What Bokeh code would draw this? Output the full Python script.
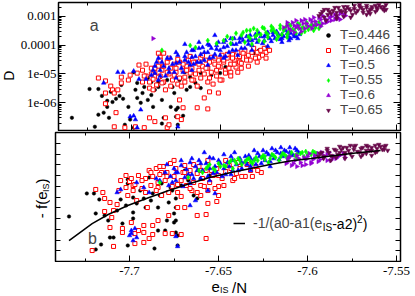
import math
from bokeh.plotting import figure
from bokeh.layouts import column, row
from bokeh.models import (Range1d, FixedTicker, LinearAxis, LogAxis, Legend, LegendItem, Label,
                          CustomJSTickFormatter)
from bokeh.core.properties import value
from bokeh.embed import file_html
from bokeh.resources import INLINE

# ---------------- data (e_IS/N , log10 D) for panel a ----------------
series_names = ["T=0.446", "T=0.466", "T=0.5", "T=0.55", "T=0.6", "T=0.65"]

top_446 = [(-7.734,-6.52),(-7.724,-5.52),(-7.721,-6.83),(-7.719,-5.52),(-7.719,-6.41),(-7.717,-5.76),(-7.716,-6.34),(-7.714,-5.93),(-7.714,-6.14),(-7.713,-6.52),(-7.712,-5.62),(-7.711,-5.97),(-7.709,-5.86),(-7.707,-5.76),(-7.706,-5.38),(-7.705,-5.86),(-7.704,-6.76),(-7.702,-6.14),(-7.701,-6.58),(-7.699,-4.94),(-7.699,-6.86),(-7.698,-5.55),(-7.697,-5.31),(-7.697,-5.83),(-7.695,-6.00),(-7.694,-5.66),(-7.693,-5.45),(-7.691,-5.90),(-7.691,-5.14),(-7.689,-5.73),(-7.689,-5.28),(-7.688,-6.14),(-7.687,-5.55),(-7.685,-5.45),(-7.685,-5.28),(-7.684,-5.11),(-7.683,-5.90),(-7.683,-6.72),(-7.682,-5.31),(-7.682,-6.52),(-7.680,-5.21),(-7.680,-6.83),(-7.678,-6.14),(-7.677,-5.45),(-7.676,-5.66),(-7.675,-6.24),(-7.675,-6.48),(-7.674,-6.17),(-7.674,-6.76),(-7.673,-5.21),(-7.671,-6.45),(-7.670,-4.94),(-7.669,-5.55),(-7.667,-5.45),(-7.667,-5.11),(-7.664,-5.31),(-7.661,-4.97),(-7.661,-5.49),(-7.657,-4.80),(-7.655,-5.04),(-7.652,-4.87),(-7.650,-4.97),(-7.647,-4.76),(-7.644,-4.69),(-7.642,-4.59),(-7.638,-4.59),(-7.635,-4.45),(-7.631,-4.28),(-7.628,-4.18),(-7.624,-4.08)]

top_466 = [(-7.719,-5.14),(-7.715,-5.24),(-7.715,-5.66),(-7.712,-5.42),(-7.711,-5.55),(-7.710,-5.66),(-7.709,-6.34),(-7.710,-6.83),(-7.708,-5.55),(-7.706,-5.31),(-7.706,-5.11),(-7.704,-6.86),(-7.702,-5.21),(-7.701,-5.04),(-7.698,-6.83),(-7.696,-4.69),(-7.697,-4.97),(-7.715,-6.03),(-7.693,-6.86),(-7.690,-6.52),(-7.687,-6.65),(-7.685,-4.28),(-7.684,-4.42),(-7.682,-4.28),(-7.681,-6.52),(-7.680,-6.86),(-7.679,-6.76),(-7.674,-6.48),(-7.673,-5.90),(-7.672,-6.58),(-7.671,-6.17),(-7.663,-6.17),(-7.659,-5.83),(-7.657,-6.21),(-7.656,-5.62),(-7.651,-5.66),(-7.649,-5.21),(-7.644,-4.94),(-7.639,-4.59),(-7.635,-4.42),
           (-7.694,-4.87),(-7.694,-5.28),(-7.692,-5.07),(-7.690,-5.49),(-7.689,-4.80),(-7.688,-5.18),(-7.687,-4.94),(-7.686,-5.38),(-7.685,-4.73),(-7.684,-5.07),(-7.683,-4.87),(-7.682,-5.28),(-7.680,-4.59),(-7.679,-5.00),(-7.678,-4.80),(-7.677,-5.21),(-7.676,-4.66),(-7.675,-4.94),(-7.674,-5.35),(-7.673,-4.59),(-7.671,-4.87),(-7.670,-5.11),(-7.669,-4.73),(-7.668,-4.52),(-7.667,-4.97),(-7.666,-4.80),(-7.665,-5.21),(-7.664,-4.59),(-7.662,-4.87),(-7.661,-4.45),(-7.660,-4.73),(-7.659,-5.00),(-7.658,-4.52),(-7.657,-4.80),(-7.656,-5.14),(-7.655,-4.42),(-7.653,-4.66),(-7.652,-4.87),(-7.651,-4.52),(-7.650,-4.76),(-7.649,-4.35),(-7.648,-4.59),(-7.647,-4.87),(-7.646,-4.45),(-7.644,-4.66),(-7.643,-4.32),(-7.642,-4.52),(-7.641,-4.76),(-7.640,-4.25),(-7.639,-4.42),(-7.638,-4.63),(-7.636,-4.18),(-7.634,-4.35),(-7.633,-4.52),(-7.631,-4.11),(-7.629,-4.25),(-7.628,-4.42),(-7.625,-4.11),(-7.624,-4.25),
           (-7.693,-5.07),(-7.692,-4.66),(-7.690,-5.28),(-7.689,-5.00),(-7.688,-5.55),(-7.687,-4.80),(-7.685,-5.11),(-7.684,-4.52),(-7.683,-5.31),(-7.682,-4.73),(-7.681,-5.55),(-7.680,-4.94),(-7.679,-4.45),(-7.678,-5.42),(-7.676,-5.04),(-7.675,-4.80),(-7.674,-4.49),(-7.673,-5.14),(-7.672,-5.42),(-7.671,-4.66),(-7.670,-5.28),(-7.669,-4.87),(-7.667,-4.39),(-7.666,-5.21),(-7.665,-4.59),(-7.664,-5.00),(-7.663,-5.42),(-7.662,-4.66),(-7.661,-5.14),(-7.660,-4.35),(-7.658,-4.80),(-7.657,-5.28),(-7.656,-4.59),(-7.655,-4.94),(-7.654,-5.35),(-7.653,-4.45),(-7.652,-5.07),(-7.651,-4.73),(-7.650,-5.21),(-7.648,-4.52),(-7.647,-4.97),(-7.646,-4.32),(-7.645,-4.80),(-7.644,-5.07),(-7.643,-4.45),(-7.642,-4.66),(-7.640,-4.94),(-7.639,-4.39),(-7.638,-4.80),(-7.637,-4.28),(-7.635,-4.52),(-7.634,-4.73),(-7.632,-4.25),(-7.630,-4.45),(-7.629,-4.59),(-7.627,-4.18),(-7.626,-4.35),(-7.624,-4.45),(-7.622,-4.18)]

top_05 = [(-7.716,-5.31),(-7.708,-4.94),(-7.705,-4.94),(-7.699,-4.90),(-7.696,-5.18),(-7.701,-6.48),(-7.699,-6.45),(-7.698,-6.58),(-7.697,-6.86),(-7.695,-6.24),(-7.692,-5.18),(-7.687,-4.97),(-7.685,-4.45),(-7.674,-6.83),(-7.670,-3.97),(-7.662,-3.90),(-7.653,-3.66),
          (-7.689,-5.04),(-7.687,-4.73),(-7.685,-5.21),(-7.684,-4.87),(-7.683,-4.59),(-7.681,-5.07),(-7.679,-4.80),(-7.678,-4.45),(-7.676,-4.94),(-7.675,-4.63),(-7.674,-4.35),(-7.672,-4.80),(-7.670,-4.52),(-7.669,-4.25),(-7.667,-4.69),(-7.666,-4.42),(-7.665,-4.18),(-7.663,-4.59),(-7.661,-4.32),(-7.660,-4.08),(-7.659,-4.52),(-7.657,-4.25),(-7.656,-4.01),(-7.654,-4.42),(-7.652,-4.14),(-7.651,-3.90),(-7.650,-4.35),(-7.648,-4.08),(-7.647,-3.84),(-7.645,-4.25),(-7.643,-3.97),(-7.642,-3.77),(-7.641,-4.18),(-7.639,-3.90),(-7.638,-3.73),(-7.636,-4.11),(-7.634,-3.84),(-7.633,-3.66),(-7.632,-4.01),(-7.630,-3.77),(-7.628,-3.59),(-7.626,-3.94),(-7.625,-3.70),(-7.623,-3.56),(-7.621,-3.87),(-7.620,-3.66),(-7.618,-3.53),(-7.616,-3.80),(-7.615,-3.63),(-7.613,-3.49),(-7.611,-3.73),(-7.610,-3.59),(-7.608,-3.70),(-7.606,-3.77),(-7.605,-3.63),(-7.611,-3.84),(-7.615,-3.90),(-7.623,-4.04),(-7.632,-4.18),(-7.640,-4.35),(-7.648,-4.45),(-7.657,-4.69),(-7.666,-4.87),(-7.675,-5.14),
          (-7.688,-4.87),(-7.686,-4.59),(-7.684,-5.07),(-7.682,-4.73),(-7.680,-4.45),(-7.679,-4.94),(-7.677,-4.66),(-7.675,-4.25),(-7.673,-4.59),(-7.671,-4.94),(-7.670,-4.39),(-7.668,-4.59),(-7.666,-4.18),(-7.665,-4.66),(-7.664,-4.39),(-7.662,-4.11),(-7.661,-4.59),(-7.659,-4.25),(-7.657,-3.97),(-7.656,-4.45),(-7.655,-4.11),(-7.653,-4.32),(-7.652,-4.01),(-7.650,-4.18),(-7.648,-3.90),(-7.647,-4.39),(-7.646,-4.04),(-7.644,-3.77),(-7.643,-4.18),(-7.641,-3.97),(-7.639,-3.77),(-7.638,-4.11),(-7.637,-3.84),(-7.635,-3.70),(-7.634,-3.97),(-7.632,-3.84),(-7.630,-3.63),(-7.629,-3.90),(-7.627,-3.70),(-7.625,-3.84),(-7.624,-3.63),(-7.622,-3.77),(-7.620,-3.56),(-7.619,-3.77),(-7.617,-3.63),(-7.615,-3.77),(-7.614,-3.70),(-7.612,-3.59),(-7.610,-3.77),(-7.608,-3.63),(-7.607,-3.70)]

top_055 = [(-7.683,-4.18),(-7.667,-4.01),(-7.664,-4.08),(-7.657,-3.84),(-7.652,-3.94),(-7.648,-3.84),(-7.646,-3.70),(-7.644,-3.94),(-7.643,-3.77),(-7.641,-3.59),(-7.638,-3.66),(-7.636,-3.90),(-7.635,-3.49),(-7.633,-3.77),(-7.632,-3.97),(-7.631,-3.42),(-7.629,-3.63),(-7.628,-3.84),(-7.626,-3.39),(-7.625,-3.87),(-7.624,-3.56),(-7.623,-3.73),(-7.621,-3.35),(-7.619,-3.53),(-7.618,-3.80),(-7.617,-3.70),(-7.616,-3.32),(-7.614,-3.49),(-7.612,-3.63),(-7.612,-3.73),(-7.611,-3.29),(-7.609,-3.46),(-7.607,-3.59),(-7.606,-3.25),(-7.604,-3.42),(-7.604,-3.59),(-7.602,-3.53),(-7.601,-3.22),(-7.599,-3.35),(-7.597,-3.49),(-7.596,-3.29),(-7.594,-3.42),(-7.593,-3.32),
           (-7.637,-3.56),(-7.634,-3.70),(-7.633,-3.49),(-7.630,-3.70),(-7.629,-3.49),(-7.627,-3.63),(-7.625,-3.42),(-7.623,-3.63),(-7.621,-3.49),(-7.620,-3.42),(-7.618,-3.59),(-7.616,-3.42),(-7.615,-3.63),(-7.613,-3.39),(-7.611,-3.53),(-7.610,-3.32),(-7.608,-3.49),(-7.606,-3.39),(-7.605,-3.29),(-7.603,-3.39),(-7.601,-3.32),(-7.600,-3.46),(-7.598,-3.29),(-7.596,-3.39),(-7.594,-3.22)]

top_06 = [(-7.688,-3.77),(-7.614,-3.39),(-7.612,-3.22),(-7.610,-3.49),(-7.608,-3.32),(-7.607,-3.15),(-7.605,-3.42),(-7.603,-3.25),(-7.602,-3.11),(-7.600,-3.35),(-7.598,-3.18),(-7.597,-3.04),(-7.595,-3.29),(-7.593,-3.11),(-7.592,-2.98),(-7.590,-3.22),(-7.588,-3.04),(-7.587,-3.15),(-7.585,-2.94),(-7.583,-3.08),(-7.582,-2.91),(-7.608,-3.56),(-7.604,-3.53),(-7.598,-3.42),(-7.593,-3.35),(-7.579,-2.98),
          (-7.612,-3.32),(-7.611,-3.42),(-7.609,-3.22),(-7.607,-3.39),(-7.606,-3.32),(-7.604,-3.15),(-7.602,-3.42),(-7.601,-3.25),(-7.599,-3.11),(-7.597,-3.32),(-7.596,-3.18),(-7.594,-3.05),(-7.592,-3.25),(-7.590,-3.11),(-7.589,-3.18),(-7.587,-3.01),(-7.585,-3.11),(-7.584,-3.01),(-7.582,-3.11),(-7.580,-2.94)]

top_065 = [(-7.594,-2.98),(-7.592,-2.84),(-7.591,-3.04),(-7.589,-2.77),(-7.587,-2.91),(-7.585,-2.70),(-7.584,-2.98),(-7.582,-2.80),(-7.580,-2.67),(-7.579,-2.87),(-7.577,-2.74),(-7.575,-2.94),(-7.574,-2.63),(-7.572,-2.80),(-7.570,-2.70),(-7.569,-2.87),(-7.567,-2.63),(-7.565,-2.77),(-7.564,-2.67),(-7.562,-2.84),(-7.560,-2.60),(-7.558,-2.74),(-7.557,-2.67),(-7.556,-2.77),(-7.584,-3.08),(-7.576,-3.04),(-7.567,-2.94),(-7.571,-2.60),(-7.565,-2.91),(-7.590,-3.15),(-7.580,-3.01),(-7.561,-2.70),
           (-7.593,-2.91),(-7.591,-2.77),(-7.589,-2.94),(-7.588,-2.84),(-7.586,-2.80),(-7.584,-2.87),(-7.583,-2.70),(-7.581,-2.84),(-7.579,-2.77),(-7.578,-2.67),(-7.576,-2.80),(-7.574,-2.74),(-7.573,-2.87),(-7.571,-2.67),(-7.569,-2.77),(-7.567,-2.70),(-7.566,-2.84),(-7.564,-2.74),(-7.562,-2.63),(-7.561,-2.77),(-7.559,-2.67),(-7.557,-2.80),(-7.556,-2.60)]

# ---------------- data (e_IS/N , -f(e_IS)) for panel b ----------------
bot_446 = [(-7.734,4.19),(-7.724,6.33),(-7.720,6.33),(-7.719,4.47),(-7.717,5.77),(-7.719,1.12),(-7.716,1.58),(-7.714,4.28),(-7.712,3.81),(-7.711,2.23),(-7.709,2.23),(-7.707,4.74),(-7.705,5.77),(-7.704,3.53),(-7.702,5.21),(-7.701,7.26),(-7.701,1.49),(-7.701,7.63),(-7.698,4.00),(-7.698,4.56),(-7.698,5.95),(-7.696,5.40),(-7.694,6.60),(-7.692,5.86),(-7.691,5.02),(-7.689,7.81),(-7.688,5.67),(-7.687,6.33),(-7.686,1.21),(-7.684,5.02),(-7.684,2.88),(-7.683,6.14),(-7.682,7.26),(-7.680,2.88),(-7.680,8.19),(-7.679,3.81),(-7.678,5.49),(-7.677,6.88),(-7.676,6.60),(-7.675,4.47),(-7.674,5.86),(-7.674,5.02),(-7.674,3.81),(-7.675,3.63),(-7.674,2.70),(-7.673,2.42),(-7.673,1.49),(-7.669,8.47),(-7.664,6.14),(-7.662,5.86),(-7.671,7.07),(-7.667,7.53),(-7.660,7.72),(-7.655,8.00)]

bot_466 = [(-7.721,1.02),(-7.719,6.70),(-7.715,6.42),(-7.714,4.65),(-7.714,5.86),(-7.711,5.49),(-7.711,3.16),(-7.710,4.09),(-7.709,4.74),(-7.709,1.40),(-7.707,5.30),(-7.706,6.60),(-7.704,3.07),(-7.704,2.70),(-7.702,6.88),(-7.700,7.44),(-7.699,3.63),(-7.698,7.07),(-7.697,2.60),(-7.697,1.67),(-7.695,2.88),(-7.692,2.70),(-7.692,1.77),(-7.692,3.35),(-7.690,5.02),(-7.689,2.14),(-7.687,2.51),(-7.687,3.35),(-7.684,6.88),(-7.684,3.81),(-7.682,8.28),(-7.680,2.60),(-7.678,4.28),(-7.676,2.60),(-7.673,5.02),(-7.671,2.51),(-7.669,5.02),(-7.662,4.28),(-7.660,6.14),(-7.657,4.37),(-7.657,2.14),(-7.656,5.40),(-7.651,5.58),(-7.650,6.14),
           (-7.705,7.53),(-7.702,8.00),(-7.699,7.72),(-7.697,7.16),(-7.695,8.00),(-7.693,6.79),(-7.691,7.72),(-7.689,8.47),(-7.688,7.07),(-7.687,7.91),(-7.685,8.65),(-7.684,7.35),(-7.683,8.09),(-7.681,8.84),(-7.680,7.53),(-7.679,8.28),(-7.677,9.12),(-7.676,6.98),(-7.675,7.91),(-7.674,8.65),(-7.673,6.42),(-7.671,7.53),(-7.670,8.28),(-7.669,8.93),(-7.668,7.07),(-7.667,7.81),(-7.666,8.47),(-7.665,6.60),(-7.664,7.35),(-7.662,8.19),(-7.661,8.84),(-7.660,7.07),(-7.659,7.72),(-7.657,8.47),(-7.656,6.60),(-7.655,7.35),(-7.653,8.00),(-7.651,8.65),(-7.650,6.98),(-7.648,7.72),(-7.646,8.37),(-7.644,8.93),(-7.642,7.53),(-7.640,8.19),(-7.638,8.65),(-7.635,7.91),(-7.632,8.47),(-7.629,8.84),(-7.626,8.28),
           (-7.701,6.14),(-7.698,6.60),(-7.696,5.67),(-7.693,7.53),(-7.691,6.42),(-7.688,8.28),(-7.685,6.60),(-7.683,8.84),(-7.682,6.14),(-7.679,7.91),(-7.678,6.42),(-7.675,9.40),(-7.673,7.16),(-7.671,6.05),(-7.669,8.28),(-7.666,6.79),(-7.664,9.02),(-7.662,6.42),(-7.660,8.47),(-7.658,6.98),(-7.656,9.40),(-7.654,8.47),(-7.652,6.79),(-7.650,8.00),(-7.647,7.07),(-7.646,9.40),(-7.643,8.65),(-7.641,7.72),(-7.639,9.21),(-7.637,7.91),(-7.634,9.02),(-7.631,7.91),(-7.628,8.47)]

bot_05 = [(-7.707,6.42),(-7.705,6.70),(-7.700,2.42),(-7.699,2.88),(-7.699,2.60),(-7.698,1.95),(-7.697,3.07),(-7.696,2.23),(-7.696,7.35),(-7.692,6.88),(-7.689,6.42),(-7.685,7.72),(-7.674,2.33),(-7.673,1.40),(-7.656,6.60),(-7.652,6.33),(-7.663,5.67),(-7.666,5.21),
          (-7.683,7.53),(-7.680,8.28),(-7.678,7.07),(-7.677,7.91),(-7.675,8.65),(-7.674,7.53),(-7.673,8.28),(-7.671,8.93),(-7.669,7.81),(-7.668,8.56),(-7.666,9.21),(-7.665,8.09),(-7.663,8.84),(-7.661,9.40),(-7.660,7.72),(-7.659,8.47),(-7.657,9.12),(-7.655,9.67),(-7.653,8.19),(-7.652,8.84),(-7.650,9.40),(-7.648,7.91),(-7.647,8.65),(-7.645,9.21),(-7.643,9.77),(-7.642,8.47),(-7.640,9.02),(-7.638,9.58),(-7.637,8.65),(-7.635,9.30),(-7.633,9.86),(-7.632,8.84),(-7.630,9.49),(-7.628,10.05),(-7.626,9.12),(-7.625,9.67),(-7.623,10.14),(-7.621,9.30),(-7.620,9.86),(-7.618,10.33),(-7.616,9.49),(-7.615,10.05),(-7.613,10.33),(-7.611,9.67),(-7.610,10.14),(-7.608,9.86),(-7.606,10.33),(-7.621,8.84),(-7.632,8.47),(-7.643,8.09),(-7.655,7.53),(-7.666,7.26),
          (-7.679,9.02),(-7.676,7.35),(-7.674,8.28),(-7.671,9.40),(-7.670,6.98),(-7.667,8.09),(-7.665,9.58),(-7.664,7.72),(-7.662,8.47),(-7.660,9.12),(-7.658,10.14),(-7.656,7.91),(-7.655,8.65),(-7.653,9.58),(-7.651,8.28),(-7.649,9.12),(-7.647,9.95),(-7.646,8.09),(-7.644,8.84),(-7.642,9.40),(-7.641,10.14),(-7.639,8.47),(-7.637,9.21),(-7.635,9.77),(-7.634,9.02),(-7.632,9.58),(-7.630,10.33),(-7.629,9.02),(-7.627,9.77),(-7.625,10.33),(-7.624,9.40),(-7.622,9.95),(-7.620,10.51),(-7.619,9.58),(-7.617,10.14),(-7.615,10.60),(-7.614,9.77),(-7.612,10.23),(-7.610,10.60),(-7.609,9.95),(-7.607,10.51),(-7.605,10.14)]

bot_055 = [(-7.683,7.35),(-7.667,7.81),(-7.661,8.47),(-7.657,8.65),(-7.655,9.02),(-7.652,8.47),(-7.649,8.84),(-7.647,8.93),(-7.644,9.21),(-7.642,8.65),(-7.641,9.40),(-7.639,9.58),(-7.637,9.02),(-7.635,9.30),(-7.633,9.58),(-7.631,9.12),(-7.629,9.67),(-7.628,9.40),(-7.625,9.86),(-7.624,9.49),(-7.622,9.21),(-7.620,9.95),(-7.618,9.67),(-7.616,9.40),(-7.614,10.05),(-7.612,9.77),(-7.611,9.49),(-7.609,10.14),(-7.607,9.86),(-7.606,9.58),(-7.604,10.05),(-7.602,9.77),(-7.601,10.23),(-7.598,9.95),(-7.596,10.14),(-7.594,9.86),
           (-7.659,8.28),(-7.656,8.84),(-7.653,8.65),(-7.650,9.12),(-7.646,8.84),(-7.643,9.40),(-7.640,9.12),(-7.638,9.40),(-7.634,9.49),(-7.632,9.30),(-7.630,9.40),(-7.626,9.67),(-7.624,9.77),(-7.621,9.58),(-7.619,9.86),(-7.615,9.77),(-7.613,9.95),(-7.610,9.77),(-7.606,9.95),(-7.603,10.14),(-7.600,9.95),(-7.597,10.23),(-7.595,10.05)]

bot_06 = [(-7.612,9.12),(-7.611,9.58),(-7.609,8.93),(-7.607,9.40),(-7.606,9.86),(-7.604,9.21),(-7.602,9.67),(-7.601,9.02),(-7.599,10.05),(-7.597,9.49),(-7.596,9.86),(-7.594,9.30),(-7.592,10.14),(-7.591,9.67),(-7.589,9.95),(-7.587,9.40),(-7.585,9.77),(-7.584,9.58),(-7.582,9.86),(-7.579,9.67),(-7.606,8.84),(-7.598,9.12),
          (-7.611,9.30),(-7.610,9.77),(-7.608,9.12),(-7.605,9.58),(-7.603,8.93),(-7.601,9.49),(-7.600,9.77),(-7.598,9.21),(-7.596,9.67),(-7.594,10.05),(-7.593,9.49),(-7.591,9.86),(-7.589,9.40),(-7.588,10.14),(-7.586,9.58),(-7.583,9.77),(-7.580,10.05)]

bot_065 = [(-7.594,9.77),(-7.592,10.14),(-7.591,9.58),(-7.589,10.33),(-7.587,9.86),(-7.585,10.42),(-7.584,9.67),(-7.582,10.14),(-7.580,10.60),(-7.579,9.95),(-7.577,10.33),(-7.575,9.77),(-7.574,10.70),(-7.572,10.23),(-7.570,10.51),(-7.569,9.95),(-7.567,10.79),(-7.565,10.33),(-7.564,10.60),(-7.562,10.14),(-7.560,10.88),(-7.558,10.42),(-7.557,10.70),(-7.555,10.33),(-7.587,9.40),(-7.579,9.58),(-7.570,9.77),(-7.564,9.86),(-7.576,10.79),(-7.567,10.33),(-7.561,10.51),(-7.582,10.70),
           (-7.593,10.05),(-7.591,9.77),(-7.589,10.51),(-7.588,10.14),(-7.586,9.77),(-7.584,10.33),(-7.583,9.95),(-7.581,10.42),(-7.579,10.14),(-7.578,10.60),(-7.576,10.05),(-7.574,10.42),(-7.573,10.79),(-7.571,10.14),(-7.569,10.60),(-7.567,10.05),(-7.566,10.70),(-7.564,10.33),(-7.562,10.79),(-7.561,10.23),(-7.559,10.70),(-7.557,10.42),(-7.556,10.79)]

fit_e = [-7.734, -7.721, -7.712, -7.701, -7.689, -7.678, -7.666, -7.655, -7.643, -7.632, -7.621, -7.610, -7.598, -7.587, -7.573, -7.559]
fit_f = [1.95, 3.53, 4.37, 5.21, 5.95, 6.60, 7.26, 7.81, 8.28, 8.65, 9.02, 9.35, 9.58, 9.81, 10.09, 10.33]

xtick_values = [-7.7, -7.65, -7.6, -7.55]
xtick_labels = ["-7.7", "-7.65", "-7.6", "-7.55"]
ytick_values = [1e-6, 1e-5, 1e-4, 1e-3]
ytick_labels = ["1e-06", "1e-05", "0.0001", "0.001"]

# ---------------- styles ----------------
styles = [
    dict(marker="circle", size=3.5, fill_color="#000000", line_color="#000000", line_width=0.5),
    dict(marker="square", size=4, fill_color="#ffffff", line_color="#ff0000", line_width=1),
    dict(marker="triangle", size=4.5, fill_color="#0000ff", line_color="#0000ff", line_width=0.5),
    dict(marker="diamond", size=5, fill_color="#00ff00", line_color="#00ff00", line_width=0.5),
    dict(marker="triangle", size=4.5, fill_color="#9400d3", line_color="#9400d3", line_width=0.5,
         angle=-math.pi / 2),
    dict(marker="inverted_triangle", size=4.5, fill_color="#670748", line_color="#670748", line_width=0.5),
]

X_MINOR = [-7.725, -7.675, -7.625, -7.575]
Y_MINOR = [m * 10.0 ** k for k in range(-7, -2) for m in range(2, 10)]
SANS = "Liberation Sans"
SERIF = "Liberation Serif"
X_RANGE = (-7.7416, -7.5478)
FRAME_W = 345
PX = (X_RANGE[1] - X_RANGE[0]) / FRAME_W   # data units per pixel along x


def style_axis(ax, ticker, labels=None, major=6, minor=3):
    ax.ticker = ticker
    ax.axis_line_color = None
    ax.major_tick_in = major
    ax.major_tick_out = 0
    ax.minor_tick_in = minor
    ax.minor_tick_out = 0
    ax.major_tick_line_color = "black"
    ax.minor_tick_line_color = "black"
    ax.major_tick_line_width = 1
    ax.minor_tick_line_width = 1
    if labels is None:
        ax.formatter = CustomJSTickFormatter(code="return ''")
        ax.major_label_text_font_size = "1px"
        ax.major_label_standoff = 0
    else:
        ax.major_label_overrides = labels
        ax.major_label_text_font = SERIF
        ax.major_label_text_font_size = "13px"
        ax.major_label_text_color = "black"


def base_fig(width, height, y_range, log, mb_left, mb_top, mb_bottom):
    kw = dict(width=width, height=height,
              x_range=Range1d(*X_RANGE), y_range=y_range,
              output_backend="svg", toolbar_location=None,
              min_border_left=mb_left, min_border_right=5,
              min_border_top=mb_top, min_border_bottom=mb_bottom)
    if log:
        kw["y_axis_type"] = "log"
    p = figure(**kw)
    p.xgrid.visible = False
    p.ygrid.visible = False
    p.outline_line_color = "black"
    p.outline_line_width = 1.5
    p.background_fill_color = "white"
    p.border_fill_color = "white"
    return p


def text_fig(width, height, x_range=None):
    p = figure(width=width, height=height,
               x_range=x_range if x_range is not None else Range1d(0, width),
               y_range=Range1d(0, height),
               output_backend="svg", toolbar_location=None,
               x_axis_location=None, y_axis_location=None, min_border=0)
    p.grid.visible = False
    p.outline_line_color = None
    p.background_fill_color = "white"
    p.border_fill_color = "white"
    return p


def lab(p, x, y, text, size, angle=0.0, align="left", units="screen"):
    p.add_layout(Label(x=x, y=y, x_units=units, y_units=units, text=text,
                       angle=angle, text_font=SANS, text_font_size=size,
                       text_align=align, text_baseline="middle", text_color="black"))


# ---------------- panel a ----------------
top = base_fig(388, 131, Range1d(1.1e-7, 3.0e-3), True, 38, 2, 1)
xt = FixedTicker(ticks=xtick_values, minor_ticks=X_MINOR)
yt = FixedTicker(ticks=ytick_values, minor_ticks=Y_MINOR)
style_axis(top.xaxis[0], xt)
ax_top_above = LinearAxis()
top.add_layout(ax_top_above, "above")
style_axis(ax_top_above, xt)
style_axis(top.yaxis[0], yt, dict(zip(ytick_values, ytick_labels)), major=7, minor=3)
top.yaxis[0].major_label_standoff = 2
ax_top_right = LogAxis()
top.add_layout(ax_top_right, "right")
style_axis(ax_top_right, yt, major=7, minor=3)

top_data = [top_446, top_466, top_05, top_055, top_06, top_065]
items = []
for name, pts, st in zip(series_names, top_data, styles):
    xs = [p_[0] for p_ in pts]
    ys = [10.0 ** p_[1] for p_ in pts]
    r = top.scatter(xs, ys, **st)
    items.append(LegendItem(label=name, renderers=[r]))

leg = Legend(items=items, location=(265, 13), orientation="vertical",
             label_text_font=SANS, label_text_font_size="13.5px",
             label_height=14, glyph_height=14, glyph_width=10,
             label_standoff=7, spacing=0, padding=0, margin=0,
             border_line_color=None, background_fill_alpha=0)
top.add_layout(leg)

top.add_layout(Label(x=-7.7214, y=10 ** -3.32, text="a", text_font=SANS, text_font_size="16px",
                     text_align="center", text_baseline="middle"))

# strip holding the rotated "D"
dstrip = text_fig(17, 131)
lab(dstrip, 8, 131 - 75, "D", "14px", angle=math.pi / 2, align="center", units="data")

# ---------------- panel b ----------------
bot = base_fig(355, 131, Range1d(0, 12), False, 5, 1, 1)
style_axis(bot.xaxis[0], xt)
ax_bot_above = LinearAxis()
bot.add_layout(ax_bot_above, "above")
style_axis(ax_bot_above, xt)
yt2 = FixedTicker(ticks=list(range(1, 12)), minor_ticks=[])
style_axis(bot.yaxis[0], yt2, major=5)
ax_bot_right = LinearAxis()
bot.add_layout(ax_bot_right, "right")
style_axis(ax_bot_right, yt2, major=5)

bot_data = [bot_446, bot_466, bot_05, bot_055, bot_06, bot_065]
for pts, st in zip(bot_data, styles):
    bot.scatter([p_[0] for p_ in pts], [p_[1] for p_ in pts], **st)

fit_r = bot.line(fit_e, fit_f, line_color="black", line_width=1.5)
leg2 = Legend(items=[LegendItem(label="-1/(a0-a1(e", renderers=[fit_r])],
              location=(178, 28), label_text_font=SANS, label_text_font_size="14px",
              label_height=20, glyph_height=20, glyph_width=12, label_standoff=8,
              padding=0, margin=0, spacing=0, border_line_color=None, background_fill_alpha=0)
bot.add_layout(leg2)

# rest of the fit legend label
lab(bot, 267.2, 34, "IS", "10px")
lab(bot, 276.7, 38, "-a2)", "14px")
lab(bot, 301.6, 43, "2", "10px")
lab(bot, 307.2, 38, ")", "14px")

bot.add_layout(Label(x=-7.7208, y=2.14, text="b", text_font=SANS, text_font_size="16px",
                     text_align="center", text_baseline="middle"))

# strip holding the rotated "- f(e_IS)"
fstrip = text_fig(50, 131)
lab(fstrip, 41, 262 - 218, "- f(e", "15px", angle=math.pi / 2, units="data")
lab(fstrip, 45, 262 - 218 + 26.7, "IS", "9px", angle=math.pi / 2, units="data")
lab(fstrip, 41, 262 - 218 + 35.2, ")", "15px", angle=math.pi / 2, units="data")

# strip below panel b: x tick labels (same x scale as the panels) and the x axis title
xlab = text_fig(415, 33, x_range=Range1d(X_RANGE[0] - 55 * PX, X_RANGE[1] + 15 * PX))
xlab.text(x=xtick_values, y=[24.5] * len(xtick_values), text=xtick_labels,
          text_font=value(SERIF), text_font_size="13px", text_color="black",
          text_align="center", text_baseline="middle")
lab(xlab, 211, 8.5, "e", "15px")
lab(xlab, 219.5, 5.5, "IS", "9px")
lab(xlab, 231.5, 8.5, "/N", "15px")

layout = column(row(dstrip, top, spacing=0), row(fstrip, bot, spacing=0), xlab, spacing=0)
open("out.html", "w").write(file_html(layout, INLINE))
